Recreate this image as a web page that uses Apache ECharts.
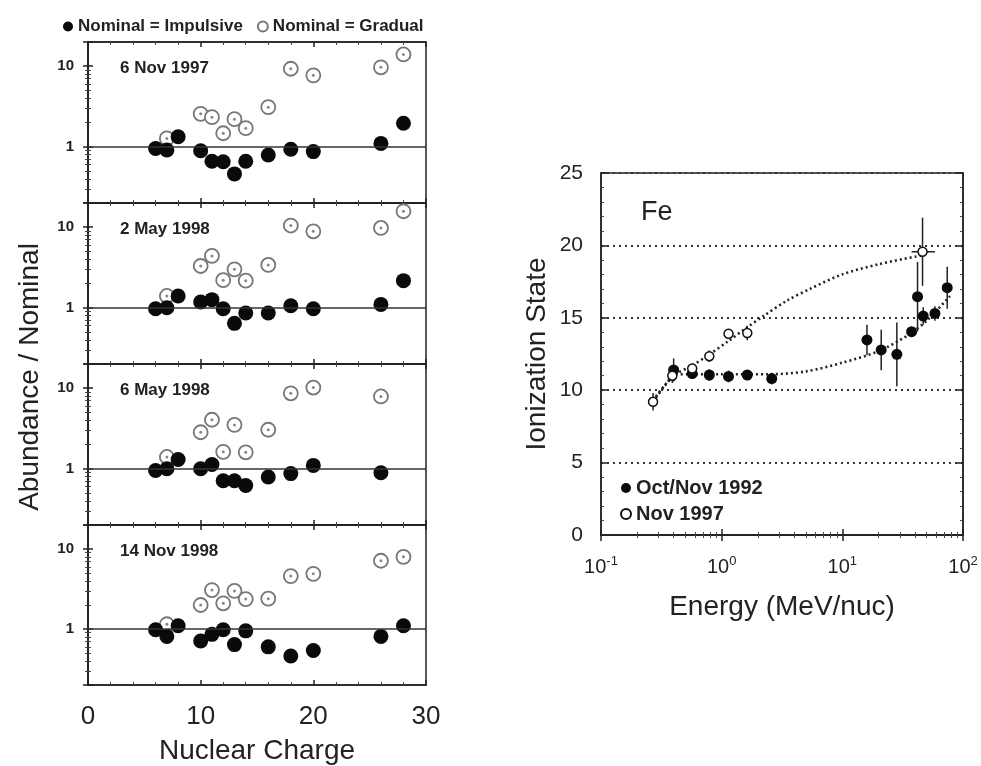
<!DOCTYPE html>
<html>
<head>
<meta charset="utf-8">
<script src="https://cdn.jsdelivr.net/npm/echarts@6/dist/echarts.min.js"></script>
<style>
html, body { margin: 0; padding: 0; background: #fff; }
#chart { width: 981px; height: 766px; }
</style>
</head>
<body>
<div id="chart"></div>
<script>
// left: abundance ratios vs nuclear charge (C N O Ne Na Mg Al Si S Ar Ca Fe Ni)
const charges = [6, 7, 8, 10, 11, 12, 13, 14, 16, 18, 20, 26, 28]
const panelDates = ['6 Nov 1997', '2 May 1998', '6 May 1998', '14 Nov 1998']
const impulsive = [
    [0.95, 0.91, 1.33, 0.89, 0.66, 0.65, 0.46, 0.66, 0.79, 0.93, 0.87, 1.1, 1.96],
    [0.97, 1.0, 1.4, 1.18, 1.26, 0.97, 0.64, 0.86, 0.86, 1.06, 0.97, 1.1, 2.17],
    [0.95, 1.0, 1.3, 1.0, 1.13, 0.71, 0.71, 0.62, 0.79, 0.87, 1.1, 0.89, null],
    [0.98, 0.81, 1.1, 0.71, 0.86, 0.98, 0.64, 0.95, 0.6, 0.46, 0.54, 0.81, 1.1]
]
const gradual = [
    [null, 1.27, null, 2.56, 2.33, 1.47, 2.2, 1.7, 3.1, 9.3, 7.7, 9.7, 14],
    [null, 1.4, null, 3.3, 4.4, 2.2, 3.0, 2.17, 3.4, 10.5, 8.9, 9.8, 15.8],
    [null, 1.4, null, 2.84, 4.06, 1.62, 3.5, 1.6, 3.05, 8.65, 10.2, 7.9, null],
    [null, 1.15, null, 2.0, 3.07, 2.1, 3.0, 2.37, 2.4, 4.6, 4.9, 7.15, 8.0]
]

// right: Fe ionization state vs energy
const fe92Energy = [0.40, 0.57, 0.79, 1.14, 1.63, 2.6, 16, 21, 28.3, 37.5, 42, 46.8, 58.5, 74]
const fe92Charge = [11.4, 11.15, 11.05, 10.95, 11.05, 10.8, 13.47, 12.78, 12.48, 14.04, 16.46, 15.12, 15.3, 17.08]
const fe92Err = [0.8, 0.35, 0.4, 0.4, 0.35, 0.4, 1.05, 1.4, 2.2, 0.3, 2.4, 0.6, 0.5, 1.45]
const fe97Energy = [0.27, 0.39, 0.57, 0.79, 1.14, 1.63, 46.2]
const fe97Charge = [9.2, 11.0, 11.5, 12.35, 13.9, 13.95, 19.56]
const fe97Err = [0.6, 0.5, 0.3, 0.4, 0.3, 0.5, 2.35]
const fe97EnergyLo = [null, null, null, null, null, null, 37.5]
const fe97EnergyHi = [null, null, null, null, null, null, 58.5]
const fit97Energy = [0.27, 0.4, 0.57, 0.8, 1.14, 1.6, 2.2, 3.5, 5.4, 10, 20, 45]
const fit97Charge = [9.2, 11.0, 11.7, 12.5, 13.4, 14.3, 15.1, 16.2, 17.0, 18.0, 18.7, 19.3]
const fit92Energy = [0.27, 0.35, 0.42, 1, 2.5, 5, 10, 20, 35, 50, 78]
const fit92Charge = [9.3, 10.5, 11.1, 11.1, 11.1, 11.3, 11.9, 12.7, 13.8, 14.8, 16.5]

const font = 'Liberation Sans, Arial, sans-serif'
const ink = '#222'

let grids = [], xAxes = [], yAxes = [], series = [], titles = []

panelDates.forEach((date, i) => {
    const top = 42 + i * 161
    grids.push({left: 88, top: top, width: 338, height: 161, show: true, borderColor: ink, borderWidth: 1.5})
    titles.push({
        text: date, left: 115, top: top + 13,
        textStyle: {fontFamily: font, fontSize: 17, fontWeight: 'bold', color: ink}
    })
    const last = i == panelDates.length - 1
    ;['bottom', 'top'].forEach(pos => {
        xAxes.push({
            gridIndex: i, type: 'value', min: 0, max: 30, interval: 10, position: pos,
            axisLine: {lineStyle: {color: ink, width: 1.5}},
            axisTick: {inside: true, length: 5, lineStyle: {color: ink, width: 1.5}},
            minorTick: {show: true, splitNumber: 5, length: 3, lineStyle: {color: '#444'}},
            splitLine: {show: false},
            axisLabel: {show: last && pos == 'bottom', margin: 19, fontFamily: font, fontSize: 26, color: ink},
            name: last && pos == 'bottom' ? 'Nuclear Charge' : '',
            nameLocation: 'middle', nameGap: 52,
            nameTextStyle: {fontFamily: font, fontSize: 28, color: ink}
        })
    })
    ;['left', 'right'].forEach(pos => {
        yAxes.push({
            gridIndex: i, type: 'log', min: 0.2, max: 20, position: pos,
            axisLine: {lineStyle: {color: ink, width: 1.5}},
            axisTick: {inside: true, length: 5, lineStyle: {color: ink, width: 1.5}},
            minorTick: {show: true, splitNumber: 9, length: 3, lineStyle: {color: '#444'}},
            splitLine: {show: false},
            axisLabel: {
                show: pos == 'left', margin: 14, fontFamily: font, fontSize: 15, fontWeight: 'bold', color: ink,
                formatter: v => (Math.abs(v - 1) < 1e-6 || Math.abs(v - 10) < 1e-6) ? String(Math.round(v)) : ''
            }
        })
    })
    series.push({
        name: 'Nominal = Gradual', type: 'scatter', xAxisIndex: 2 * i, yAxisIndex: 2 * i,
        data: charges.map((z, k) => [z, gradual[i][k]]).filter(p => p[1] != null),
        symbol: 'circle', symbolSize: 14, z: 2,
        itemStyle: {color: '#fff', borderColor: '#777', borderWidth: 1.8, opacity: 1},
        markLine: {
            silent: true, symbol: 'none', label: {show: false},
            lineStyle: {color: '#333', type: 'solid', width: 1.5},
            data: [{yAxis: 1}]
        }
    })
    series.push({
        name: 'gradual-dot', type: 'scatter', xAxisIndex: 2 * i, yAxisIndex: 2 * i,
        data: charges.map((z, k) => [z, gradual[i][k]]).filter(p => p[1] != null),
        symbol: 'circle', symbolSize: 3, z: 2, itemStyle: {color: '#888', opacity: 1}
    })
    series.push({
        name: 'Nominal = Impulsive', type: 'scatter', xAxisIndex: 2 * i, yAxisIndex: 2 * i,
        data: charges.map((z, k) => [z, impulsive[i][k]]).filter(p => p[1] != null),
        symbol: 'circle', symbolSize: 15, z: 3, itemStyle: {color: '#0a0a0a', opacity: 1}
    })
})

// right panel
const R = grids.length
grids.push({left: 601, top: 173, width: 362, height: 362, show: true, borderColor: ink, borderWidth: 1.5})
titles.push({text: 'Fe', left: 636, top: 194, textStyle: {fontFamily: font, fontSize: 27, fontWeight: 'normal', color: ink}})
;['bottom', 'top'].forEach(pos => {
    xAxes.push({
        gridIndex: R, type: 'log', min: 0.1, max: 100, position: pos,
        axisLine: {lineStyle: {color: ink, width: 1.5}},
        axisTick: {inside: true, length: 6, lineStyle: {color: ink, width: 1.5}},
        minorTick: {show: true, splitNumber: 9, length: 3, lineStyle: {color: '#444'}},
        splitLine: {show: false},
        axisLabel: {
            show: pos == 'bottom', margin: 20,
            formatter: v => '{b|10}{s|' + Math.round(Math.log10(v)) + '}',
            rich: {
                b: {fontFamily: font, fontSize: 20, color: ink, lineHeight: 24},
                s: {fontFamily: font, fontSize: 13, color: ink, verticalAlign: 'top', lineHeight: 14}
            }
        },
        name: pos == 'bottom' ? 'Energy (MeV/nuc)' : '',
        nameLocation: 'middle', nameGap: 58,
        nameTextStyle: {fontFamily: font, fontSize: 28, color: ink}
    })
})
;['left', 'right'].forEach(pos => {
    yAxes.push({
        gridIndex: R, type: 'value', min: 0, max: 25, interval: 5, position: pos,
        axisLine: {lineStyle: {color: ink, width: 1.5}},
        axisTick: {inside: true, length: 6, lineStyle: {color: ink, width: 1.5}},
        minorTick: {show: true, splitNumber: 5, length: 3, lineStyle: {color: '#444'}},
        splitLine: {show: pos == 'left', lineStyle: {color: '#333', type: [2, 4], width: 2.2}},
        axisLabel: {show: pos == 'left', margin: 18, fontFamily: font, fontSize: 21, color: ink},
        name: pos == 'left' ? 'Ionization State' : '',
        nameLocation: 'middle', nameGap: 50,
        nameTextStyle: {fontFamily: font, fontSize: 28, color: ink}
    })
})
const rx = xAxes.length - 2, ry = yAxes.length - 2

function errorBars(params, api) {
    const x = api.value(0), y = api.value(1), e = api.value(2)
    const a = api.coord([x, y + e]), b = api.coord([x, y - e])
    const kids = [{type: 'line', shape: {x1: a[0], y1: a[1], x2: b[0], y2: b[1]}, style: {stroke: ink, lineWidth: 1.5}}]
    const lo = api.value(3), hi = api.value(4)
    if (lo != hi) {
        const l = api.coord([lo, y]), r = api.coord([hi, y])
        kids.push({type: 'line', shape: {x1: l[0], y1: l[1], x2: r[0], y2: r[1]}, style: {stroke: ink, lineWidth: 1.5}})
    }
    return {type: 'group', children: kids}
}

series.push({
    name: 'fit97', type: 'line', xAxisIndex: rx, yAxisIndex: ry, smooth: 0.3, symbol: 'none', z: 1,
    data: fit97Energy.map((x, k) => [x, fit97Charge[k]]),
    lineStyle: {color: '#222', width: 2.6, type: [2, 3]}
})
series.push({
    name: 'fit92', type: 'line', xAxisIndex: rx, yAxisIndex: ry, smooth: 0.3, symbol: 'none', z: 1,
    data: fit92Energy.map((x, k) => [x, fit92Charge[k]]),
    lineStyle: {color: '#222', width: 2.6, type: [2, 3]}
})
series.push({
    name: 'err92', type: 'custom', xAxisIndex: rx, yAxisIndex: ry, renderItem: errorBars, z: 2,
    data: fe92Energy.map((x, k) => [x, fe92Charge[k], fe92Err[k], x, x])
})
series.push({
    name: 'err97', type: 'custom', xAxisIndex: rx, yAxisIndex: ry, renderItem: errorBars, z: 2,
    data: fe97Energy.map((x, k) => [x, fe97Charge[k], fe97Err[k], fe97EnergyLo[k] || x, fe97EnergyHi[k] || x])
})
series.push({
    name: 'Oct/Nov 1992', type: 'scatter', xAxisIndex: rx, yAxisIndex: ry, z: 3,
    data: fe92Energy.map((x, k) => [x, fe92Charge[k]]),
    symbol: 'circle', symbolSize: 11, itemStyle: {color: '#0a0a0a', opacity: 1}
})
series.push({
    name: 'Nov 1997', type: 'scatter', xAxisIndex: rx, yAxisIndex: ry, z: 3,
    data: fe97Energy.map((x, k) => [x, fe97Charge[k]]),
    symbol: 'circle', symbolSize: 9, itemStyle: {color: '#fff', borderColor: '#111', borderWidth: 1.5, opacity: 1}
})

const chart = echarts.init(document.getElementById('chart'))
chart.setOption({
    animation: false,
    backgroundColor: '#fff',
    title: titles,
    legend: [
        {
            data: ['Nominal = Impulsive', 'Nominal = Gradual'], left: 58, top: 13,
            itemWidth: 10, itemHeight: 10, itemGap: 14, selectedMode: false,
            textStyle: {fontFamily: font, fontSize: 17, fontWeight: 'bold', color: ink}
        },
        {
            data: ['Oct/Nov 1992', 'Nov 1997'], orient: 'vertical', left: 615, top: 473,
            itemWidth: 10, itemHeight: 10, itemGap: 6, selectedMode: false,
            textStyle: {fontFamily: font, fontSize: 20, fontWeight: 'bold', color: ink}
        }
    ],
    graphic: [{
        type: 'text', x: 30, y: 377, rotation: Math.PI / 2,
        style: {text: 'Abundance / Nominal', fontFamily: font, fontSize: 28, fill: ink, align: 'center', verticalAlign: 'middle'}
    }],
    grid: grids,
    xAxis: xAxes,
    yAxis: yAxes,
    series: series
})
</script>
</body>
</html>
